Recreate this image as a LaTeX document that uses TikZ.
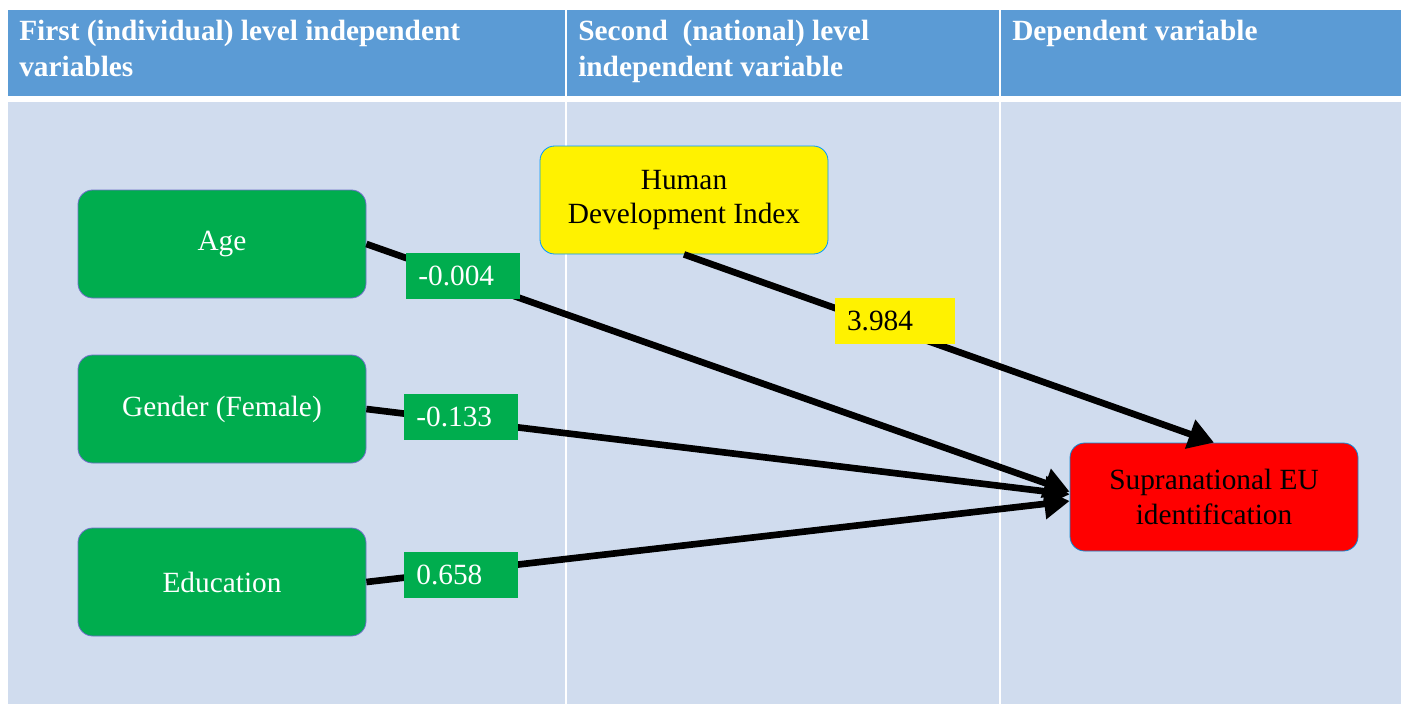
\documentclass[tikz,border=0pt]{standalone}
\usepackage{fontspec}
\setmainfont{Liberation Serif}
\usetikzlibrary{arrows.meta}
\definecolor{hdrblue}{HTML}{5B9BD5}
\definecolor{bodyblue}{HTML}{D0DCEE}
\definecolor{grn}{HTML}{00AD4E}
\definecolor{boxedge}{HTML}{6F6FC8}
\tikzset{
  hdrtext/.style={anchor=north west, text=white, align=left, inner sep=0pt,
    font=\bfseries\fontsize{22}{27}\selectfont},
  varbox/.style={rounded corners=11pt, minimum width=216pt, minimum height=81pt,
    draw=boxedge, line width=0.6pt, align=center, inner sep=2pt,
    font=\fontsize{22}{26}\selectfont},
  greenbox/.style={varbox, fill=grn, text=white},
  coef/.style={fill=grn, text=white, minimum height=35pt, inner xsep=9pt, inner ysep=0pt,
    align=left, font=\fontsize{22}{26}\selectfont},
  arr/.style={line width=5pt, -{Triangle[length=19pt,width=22pt]}},
}
\begin{document}
\begin{tikzpicture}[x=0.75pt,y=-0.75pt]
\useasboundingbox (0,0) rectangle (1401,704);
\fill[white] (0,0) rectangle (1401,704);
\fill[hdrblue] (8,10) rectangle (1401,96);
\fill[bodyblue] (8,102) rectangle (1401,704);
\draw[white, line width=1.5pt] (566,10) -- (566,96) (1000,10) -- (1000,96);
\draw[white, line width=1pt] (566,102) -- (566,704) (1000,102) -- (1000,704);

\node[hdrtext] (h1) at (19,20) {First (individual) level independent\\variables};
\node[hdrtext] (h2) at (578,20) {Second\ \ (national) level\\independent variable};
\node[hdrtext] (h3) at (1012,20) {Dependent variable};

\node[greenbox] (age) at (222,244) {Age};
\node[greenbox] (gen) at (222,409) {Gender (Female)};
\node[greenbox] (edu) at (222,582) {Education};
\node[varbox, fill=yellow, draw=blue!40!cyan, text=black] (hdi) at (684,200) {Human\\Development Index};
\node[varbox, fill=red, draw=cyan!70!blue, text=black] (sup) at (1214,497) {Supranational EU\\identification};

\draw[arr] (age.east) -- ([yshift=4pt]sup.west);
\draw[arr] (gen.east) -- ([yshift=2pt]sup.west);
\draw[arr] (edu.east) -- ([yshift=-3pt]sup.west);
\draw[arr] (hdi.south) -- (sup.north);

\node[coef, text width=67pt] (c1) at (463,276) {-0.004};
\node[coef, text width=67pt] (c2) at (461,417) {-0.133};
\node[coef, text width=67pt] (c3) at (461,575) {0.658};
\node[coef, text width=72pt, fill=yellow, text=black] (c4) at (895,321) {3.984};
\end{tikzpicture}
\end{document}
